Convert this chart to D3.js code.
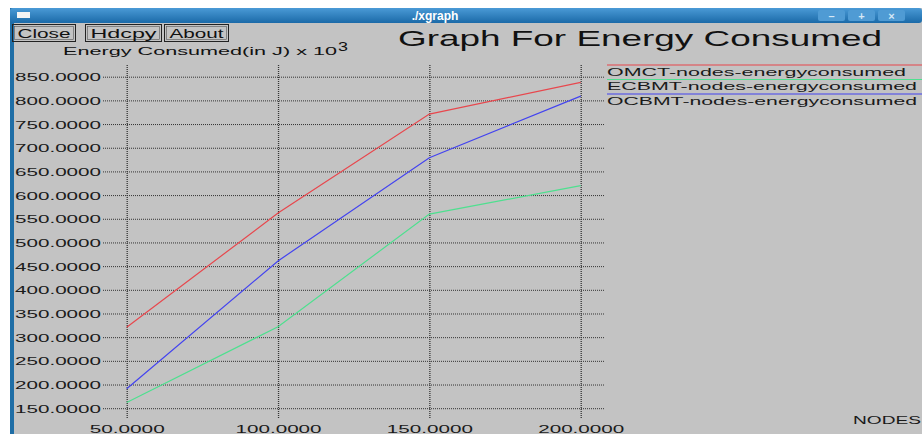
<!DOCTYPE html>
<html>
<head>
<meta charset="utf-8">
<script src="https://cdn.jsdelivr.net/npm/d3@7"></script>
<style>
  body { margin: 0; background: #ffffff; }
  svg { display: block; font-family: 'Liberation Sans', Arial, sans-serif; }
</style>
</head>
<body>
<svg id="chart" width="922" height="434"></svg>
<script>
// data
const nodes = [50, 100, 150, 200];
const omct = [321, 562, 771, 838];
const ecbmt = [162, 322, 560, 620];
const ocbmt = [191, 461, 679, 809];
const seriesNames = ['OMCT-nodes-energyconsumed', 'ECBMT-nodes-energyconsumed', 'OCBMT-nodes-energyconsumed'];
const seriesColors = ['#e8474d', '#4ee08f', '#4343f0'];
const yTicks = [150, 200, 250, 300, 350, 400, 450, 500, 550, 600, 650, 700, 750, 800, 850];
const xTicks = [50, 100, 150, 200];

const width = 922, height = 434;
const svg = d3.select('#chart');

// window frame
svg.append('rect').attr('x', 10).attr('y', 8).attr('width', width - 10).attr('height', height - 8).attr('fill', '#c3c3c3');
svg.append('rect').attr('x', 10).attr('y', 8).attr('width', 4).attr('height', height - 8).attr('fill', '#1f6ea6');

var grad = svg.append('defs').append('linearGradient').attr('id', 'tb').attr('x1', 0).attr('y1', 0).attr('x2', 0).attr('y2', 1);
grad.append('stop').attr('offset', 0).attr('stop-color', '#4a9ad6');
grad.append('stop').attr('offset', 1).attr('stop-color', '#1b6aa8');
svg.append('rect').attr('x', 10).attr('y', 8).attr('width', width - 10).attr('height', 15).attr('rx', 3).attr('fill', 'url(#tb)');
svg.append('rect').attr('x', 17).attr('y', 12).attr('width', 13).attr('height', 6).attr('fill', '#f4f4f4');
svg.append('text').attr('x', 435).attr('y', 20).attr('text-anchor', 'middle')
  .attr('fill', '#ffffff').attr('font-weight', 'bold').attr('font-size', 12).text('./xgraph');

// title bar controls
['\u2013', '+', '\u00d7'].forEach(function (s, i) {
  var bx = 818 + i * 30;
  svg.append('rect').attr('x', bx).attr('y', 10).attr('width', 27).attr('height', 11).attr('rx', 2).attr('fill', '#4f9bd4');
  svg.append('text').attr('x', bx + 13.5).attr('y', 19.5).attr('text-anchor', 'middle')
    .attr('fill', '#d6e8f6').attr('font-weight', 'bold').attr('font-size', 11).text(s);
});

// buttons
[['Close', 12, 63], ['Hdcpy', 85, 76], ['About', 164, 64]].forEach(function (b) {
  svg.append('rect').attr('x', b[1] + 0.5).attr('y', 24.5).attr('width', b[2]).attr('height', 17)
    .attr('fill', 'none').attr('stroke', '#222');
  svg.append('rect').attr('x', b[1] + 2.5).attr('y', 26.5).attr('width', b[2] - 4).attr('height', 13)
    .attr('fill', 'none').attr('stroke', '#555').attr('stroke-width', 0.6);
  svg.append('text').attr('x', b[1] + b[2] / 2 + 0.5).attr('y', 37.5).attr('text-anchor', 'middle')
    .attr('font-size', 12).attr('fill', '#111').attr('textLength', b[2] - 10).attr('lengthAdjust', 'spacingAndGlyphs')
    .text(b[0]);
});

// titles
svg.append('text').attr('x', 398).attr('y', 46).attr('font-size', 22).attr('fill', '#111')
  .attr('textLength', 484).attr('lengthAdjust', 'spacingAndGlyphs').text('Graph For Energy Consumed');
svg.append('text').attr('x', 63).attr('y', 55).attr('font-size', 11.5).attr('fill', '#111')
  .attr('textLength', 274).attr('lengthAdjust', 'spacingAndGlyphs').text('Energy Consumed(in J) x 10');
svg.append('text').attr('x', 338).attr('y', 51).attr('font-size', 12).attr('fill', '#111')
  .attr('textLength', 10).attr('lengthAdjust', 'spacingAndGlyphs').text('3');

// scales
var xScale = d3.scaleLinear().domain([50, 200]).range([126.7, 580.7]);
var yScale = d3.scaleLinear().domain([150, 850]).range([408.2, 76.7]);

// y-axis with dotted grid
var yAxis = d3.axisLeft(yScale).tickValues(yTicks).tickFormat(d3.format('.4f'))
  .tickSize(-(605 - 103)).tickPadding(2);
var gy = svg.append('g').attr('transform', 'translate(103, 0)').call(yAxis);
gy.select('.domain').remove();
gy.selectAll('line').attr('stroke', '#333').attr('stroke-dasharray', '1,1');
gy.selectAll('text').attr('font-size', 11.5).attr('fill', '#1a1a1a').attr('font-family', null)
  .attr('x', -2).attr('dy', '0.36em')
  .attr('textLength', 86).attr('lengthAdjust', 'spacingAndGlyphs');

// x-axis with dotted grid
var xAxis = d3.axisBottom(xScale).tickValues(xTicks).tickFormat(d3.format('.4f'))
  .tickSize(-(418 - 65));
var gx = svg.append('g').attr('transform', 'translate(0, 418)').call(xAxis);
gx.select('.domain').remove();
gx.selectAll('line').attr('stroke', '#333').attr('stroke-dasharray', '1,1').attr('stroke-width', 1.3);
gx.selectAll('text').attr('font-size', 11.5).attr('fill', '#1a1a1a').attr('font-family', null)
  .attr('y', 15).attr('dy', null)
  .attr('textLength', function (d) { return d < 100 ? 75 : 86; }).attr('lengthAdjust', 'spacingAndGlyphs');

svg.append('text').attr('x', 853).attr('y', 423.5).attr('font-size', 11.5).attr('fill', '#1a1a1a')
  .attr('textLength', 68).attr('lengthAdjust', 'spacingAndGlyphs').text('NODES');

// series lines
var line = d3.line().x(function (d, i) { return xScale(nodes[i]); }).y(function (d) { return yScale(d); });
[omct, ecbmt, ocbmt].forEach(function (s, k) {
  svg.append('path').datum(s).attr('d', line).attr('fill', 'none')
    .attr('stroke', seriesColors[k]).attr('stroke-width', 1.2);
});

// legend
seriesNames.forEach(function (name, k) {
  var ly = 65 + k * 14.5;
  svg.append('line').attr('x1', 607).attr('x2', width).attr('y1', ly).attr('y2', ly)
    .attr('stroke', seriesColors[k]).attr('stroke-width', 1.2);
  svg.append('text').attr('x', 607).attr('y', ly + 10.5).attr('font-size', 11).attr('fill', '#1a1a1a')
    .attr('textLength', k === 0 ? 299 : 310).attr('lengthAdjust', 'spacingAndGlyphs').text(name);
});
</script>
</body>
</html>
